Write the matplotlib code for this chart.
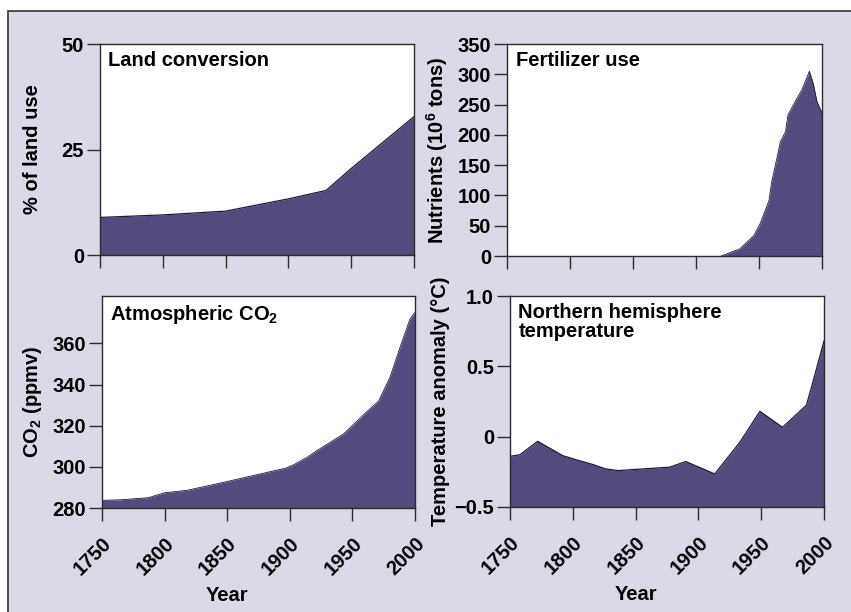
import matplotlib
matplotlib.use("Agg")
import matplotlib.pyplot as plt
from matplotlib.patches import Rectangle

plt.rcParams['font.family'] = ['Liberation Sans', 'DejaVu Sans']
plt.rcParams['font.weight'] = 'bold'
plt.rcParams['axes.labelweight'] = 'bold'
plt.rcParams['mathtext.fontset'] = 'custom'
plt.rcParams['mathtext.rm'] = 'Liberation Sans:bold'
plt.rcParams['mathtext.it'] = 'Liberation Sans:bold'
plt.rcParams['mathtext.bf'] = 'Liberation Sans:bold'
plt.rcParams['mathtext.default'] = 'rm'

#================== data =============================================
land_years = [1750, 1800, 1850, 1900, 1930, 1950, 2000]
land_pct   = [8.9, 9.5, 10.4, 13.3, 15.3, 20.5, 32.8]

fert_years = [1920, 1935, 1946, 1951, 1958, 1960, 1965, 1967, 1971, 1973, 1980, 1984, 1990, 1993, 1996, 2000]
fert_tons  = [0, 12, 34, 54, 92, 122, 169, 189, 205, 233, 260, 274, 305, 285, 255, 236]

co2_years = [1750, 1765, 1787, 1800, 1818, 1848, 1871, 1897, 1903, 1914, 1924, 1943, 1961, 1971, 1980, 1988, 1996, 2000]
co2_ppmv  = [283.7, 284.0, 285.0, 287.4, 288.6, 292.6, 295.8, 299.4, 301.0, 304.7, 308.8, 316.0, 326.5, 332.0, 343.5, 358.0, 371.8, 375.0]

temp_years = [1750, 1758, 1772, 1792, 1803, 1816, 1826, 1836, 1877, 1890, 1913, 1933, 1949, 1967, 1986, 1990, 2000]
temp_anom  = [-0.14, -0.128, -0.033, -0.135, -0.165, -0.198, -0.229, -0.241, -0.217, -0.177, -0.265, -0.04, 0.18, 0.066, 0.224, 0.35, 0.68]

year_ticks = [1750, 1800, 1850, 1900, 1950, 2000]

fill_col  = "#544a7e"
back_col  = "#dbd9e7"
spine_col = "#2b2b2b"

#============================================================
fig = plt.figure(figsize=(8.51, 6.12), dpi=100)
fig.patch.set_facecolor("white")
frame = Rectangle((8/851, -0.05), 1.0, 1 - 11/612 + 0.05, transform=fig.transFigure,
                  facecolor=back_col, edgecolor="#333333", linewidth=1.2, zorder=-10)
fig.add_artist(frame)

ax1 = fig.add_axes([100/851, 1 - 255/612, 314/851, 211/612])
ax2 = fig.add_axes([507/851, 1 - 256/612, 315/851, 212/612])
ax3 = fig.add_axes([102/851, 1 - 508/612, 313/851, 212/612])
ax4 = fig.add_axes([510/851, 1 - 507/612, 314/851, 211/612])


def style(ax, ymin, ymax, yticks, ylabels, title, ylabel, bottom, lpad):
	ax.set_zorder(5)
	ax.set_xlim(1750, 2000)
	ax.set_ylim(ymin, ymax)
	ax.set_xticks(year_ticks)
	ax.set_yticks(yticks)
	ax.set_yticklabels(ylabels)
	for s in ax.spines.values():
		s.set_color(spine_col)
		s.set_linewidth(1.0)
	ax.tick_params(axis='both', direction='out', length=9.5, width=1.0, color=spine_col, labelsize=14.5, pad=2)
	ax.set_ylabel(ylabel, fontsize=14.5, labelpad=lpad)
	ax.text(0.027, 0.965, title, transform=ax.transAxes, fontsize=14.5, va='top', ha='left', linespacing=1.0)
	if bottom:
		ax.tick_params(axis='x', pad=9)
		ax.set_xticklabels([str(y) for y in year_ticks], rotation=45, ha='right', rotation_mode='anchor')
		ax.set_xlabel("Year", fontsize=14.5)
		ax.xaxis.set_label_coords(0.40, -0.37)
	else:
		ax.set_xticklabels([])


ax1.fill_between(land_years, land_pct, 0, color=fill_col, linewidth=0)
ax1.plot(land_years, land_pct, color="#1a1a2a", linewidth=0.9)
style(ax1, 0, 50, [0, 25, 50], ["0", "25", "50"], "Land conversion", "% of land use", False, 14)

ax2.fill_between(fert_years, fert_tons, 0, color=fill_col, linewidth=0)
ax2.plot(fert_years, fert_tons, color="#1a1a2a", linewidth=0.6)
style(ax2, 0, 350, list(range(0, 351, 50)), [str(v) for v in range(0, 351, 50)],
      "Fertilizer use", "Nutrients (10$^{6}$ tons)", False, 5)

ax3.fill_between(co2_years, co2_ppmv, 280, color=fill_col, linewidth=0)
ax3.plot(co2_years, co2_ppmv, color="#1a1a2a", linewidth=0.6)
style(ax3, 280, 383, [280, 300, 320, 340, 360], ["280", "300", "320", "340", "360"],
      "Atmospheric CO$_{2}$", "CO$_{2}$ (ppmv)", True, 6)

ax4.fill_between(temp_years, temp_anom, -0.5, color=fill_col, linewidth=0)
ax4.plot(temp_years, temp_anom, color="#1a1a2a", linewidth=0.9)
style(ax4, -0.5, 1.0, [-0.5, 0, 0.5, 1.0], ["\u22120.5", "0", "0.5", "1.0"],
      "Northern hemisphere\ntemperature", "Temperature anomaly (\u00b0C)", True, 3)

plt.savefig("out.png", dpi=100, facecolor=fig.get_facecolor())
plt.close(fig)
